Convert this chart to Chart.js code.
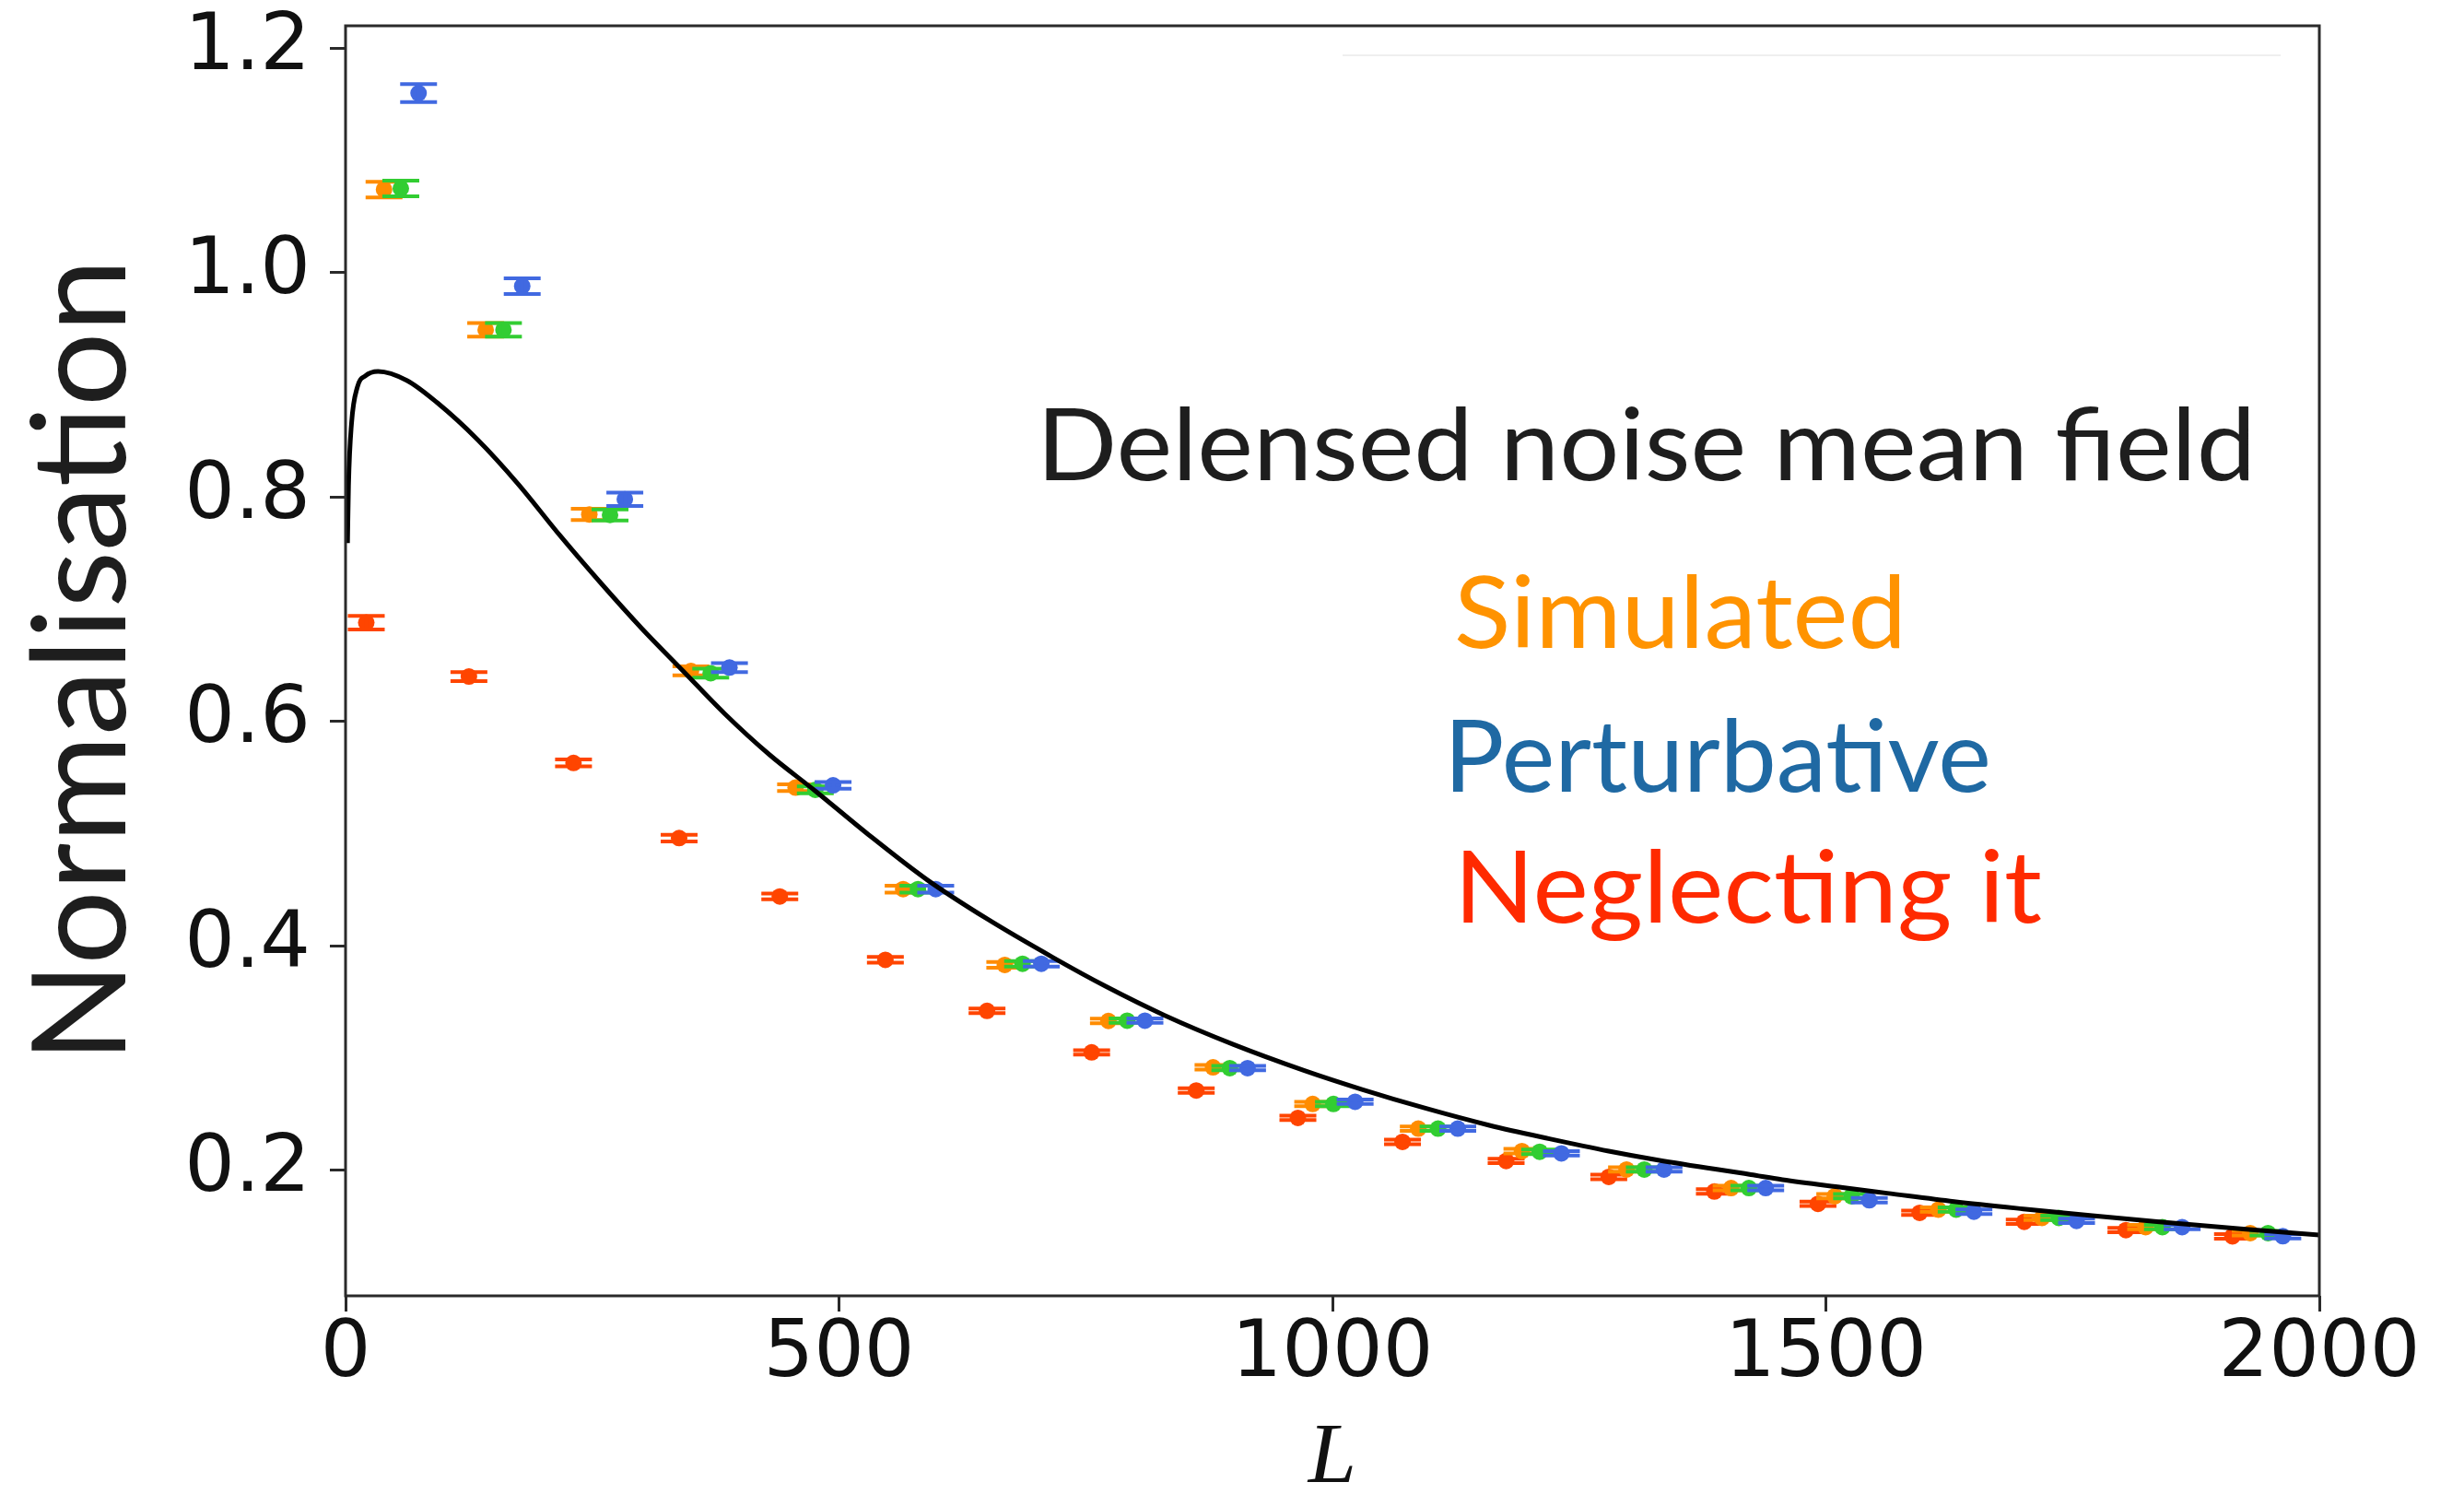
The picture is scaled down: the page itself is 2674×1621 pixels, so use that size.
<!DOCTYPE html>
<html><head><meta charset="utf-8">
<script src="https://cdn.jsdelivr.net/npm/chart.js@4.4.1/dist/chart.umd.min.js"></script>
<style>html,body{margin:0;padding:0;background:#fff;} #wrap{width:2674px;height:1621px;position:relative;}</style>
</head><body><div id="wrap"><canvas id="c" width="2674" height="1621"></canvas></div>
<script>
// ---- data ----
const xTicks = [0, 500, 1000, 1500, 2000];
const yTicks = [0.2, 0.4, 0.6, 0.8, 1.0, 1.2];

const curveL = [2, 3, 6, 12, 20, 33, 62, 93, 134, 175, 217, 259, 300, 342, 384, 430, 476, 530, 589, 650, 718, 770, 830, 900, 971, 1030, 1095, 1159, 1220, 1280, 1330, 1424, 1456, 1517, 1562, 1630, 1700, 1770, 1838, 1920, 2000];
const curveV = [0.759, 0.81, 0.865, 0.898, 0.908, 0.912, 0.904, 0.884, 0.851, 0.8115, 0.766, 0.723, 0.683, 0.645, 0.607, 0.570, 0.538, 0.499, 0.459, 0.424, 0.389, 0.364, 0.338, 0.312, 0.289, 0.272, 0.255, 0.240, 0.228, 0.217, 0.209, 0.196, 0.1915, 0.1845, 0.1795, 0.172, 0.1655, 0.1595, 0.154, 0.1478, 0.1422];

const negL = [21, 125, 231, 338, 440, 547, 650, 756, 862, 965, 1071, 1176, 1280, 1387, 1492, 1595, 1701, 1804, 1912];
const negV = [0.688, 0.640, 0.563, 0.496, 0.444, 0.3875, 0.342, 0.305, 0.271, 0.2466, 0.2252, 0.2082, 0.194, 0.181, 0.170, 0.162, 0.154, 0.1466, 0.141];
const negE = [0.006, 0.004, 0.003, 0.003, 0.0025, 0.0025, 0.002, 0.002, 0.002, 0.002, 0.002, 0.002, 0.002, 0.002, 0.002, 0.002, 0.002, 0.002, 0.002];

const simL = [39, 142, 247, 350, 456, 565, 668, 773, 879, 980, 1087, 1192, 1298, 1404, 1509, 1614, 1719, 1824, 1930];
const simV = [1.074, 0.949, 0.7845, 0.645, 0.541, 0.4505, 0.383, 0.333, 0.2917, 0.259, 0.237, 0.217, 0.2006, 0.1841, 0.1768, 0.1649, 0.1575, 0.1493, 0.1439];
const simE = [0.007, 0.006, 0.005, 0.004, 0.003, 0.003, 0.0025, 0.002, 0.002, 0.002, 0.002, 0.002, 0.002, 0.002, 0.002, 0.002, 0.002, 0.002, 0.002];

const grnL = [56, 160, 268, 370, 476, 580, 686, 792, 896, 1001, 1107, 1210, 1316, 1422, 1526, 1632, 1736, 1841, 1948];
const grnV = [1.075, 0.949, 0.784, 0.643, 0.539, 0.4505, 0.384, 0.3333, 0.291, 0.259, 0.237, 0.2164, 0.2006, 0.1841, 0.1768, 0.1649, 0.1575, 0.1493, 0.1439];
const grnE = [0.007, 0.006, 0.005, 0.004, 0.003, 0.003, 0.0025, 0.002, 0.002, 0.002, 0.002, 0.002, 0.002, 0.002, 0.002, 0.002, 0.002, 0.002, 0.002];

const pertL = [74, 179, 283, 389, 494, 598, 705, 810, 914, 1023, 1127, 1232, 1336, 1439, 1544, 1650, 1754, 1861, 1963];
const pertV = [1.160, 0.988, 0.798, 0.648, 0.543, 0.4505, 0.384, 0.3333, 0.291, 0.261, 0.237, 0.215, 0.2006, 0.1841, 0.1732, 0.163, 0.1548, 0.1493, 0.1411];
const pertE = [0.008, 0.007, 0.006, 0.004, 0.003, 0.003, 0.0025, 0.002, 0.002, 0.002, 0.002, 0.002, 0.002, 0.002, 0.002, 0.002, 0.002, 0.002, 0.002];

const noteTexts = ['Delensed noise mean field', 'Simulated', 'Perturbative', 'Neglecting it'];

// ---- build ----
const pts = (xs, ys) => xs.map((x, i) => ({x: x, y: ys[i]}));
const C = {red:'#FF4500', orange:'#FF8C00', green:'#32CD32', blue:'#4169E1'};

function dotSet(label, xs, ys, errs, color, order) {
  return {type:'scatter', label, data: pts(xs, ys), errors: errs, order,
    backgroundColor: color, borderColor: color, pointRadius: 9, pointBorderWidth: 0, pointHoverRadius: 9};
}

const errPlugin = {
  id: 'errbars',
  afterDatasetDraw(chart, args) {
    const ds = chart.data.datasets[args.index];
    if (!ds.errors) return;
    const ctx = chart.ctx, xs = chart.scales.x, ys = chart.scales.y;
    ctx.save();
    ctx.strokeStyle = ds.borderColor; ctx.lineWidth = 4; ctx.lineCap = 'butt';
    ds.data.forEach((p, i) => {
      const e = ds.errors[i];
      const px = xs.getPixelForValue(p.x);
      const y1 = ys.getPixelForValue(p.y + e), y2 = ys.getPixelForValue(p.y - e);
      ctx.beginPath();
      ctx.moveTo(px, y1); ctx.lineTo(px, y2);
      ctx.moveTo(px - 20, y1); ctx.lineTo(px + 20, y1);
      ctx.moveTo(px - 20, y2); ctx.lineTo(px + 20, y2);
      ctx.stroke();
    });
    ctx.restore();
  }
};

const notesPlugin = {
  id: 'notes',
  afterDraw(chart) {
    const ctx = chart.ctx, a = chart.chartArea;
    ctx.save();
    ctx.strokeStyle = '#2a2a2a'; ctx.lineWidth = 3;
    ctx.strokeRect(a.left, a.top, a.right - a.left, a.bottom - a.top);
    ctx.strokeStyle = '#efefef'; ctx.lineWidth = 2;
    ctx.beginPath(); ctx.moveTo(1457, 60); ctx.lineTo(2475, 60); ctx.stroke();
    const layout = [
      {x:1125, y:521, w:1323, c:'#1e1e1e'},
      {x:1578, y:703, w:491, c:'#FF9300'},
      {x:1567, y:859, w:594, c:'#1F69A3'},
      {x:1578, y:1001, w:638, c:'#FF2A00'}
    ];
    ctx.font = '400 109px Lato';
    ctx.textBaseline = 'alphabetic'; ctx.textAlign = 'left';
    noteTexts.forEach((t, i) => {
      const L = layout[i];
      const m = ctx.measureText(t).width;
      ctx.save();
      ctx.translate(L.x, L.y);
      ctx.scale(L.w / m, 1);
      ctx.fillStyle = L.c;
      ctx.fillText(t, 0, 0);
      ctx.restore();
    });
    ctx.restore();
  }
};

const datasets = [
  {type:'line', label:'Delensed noise mean field', data: pts(curveL, curveV), borderColor:'#000', borderWidth:5,
   pointRadius:0, fill:false, cubicInterpolationMode:'monotone', order:0},
  dotSet('Perturbative', pertL, pertV, pertE, C.blue, 1),
  dotSet('Simulated (green)', grnL, grnV, grnE, C.green, 2),
  dotSet('Simulated', simL, simV, simE, C.orange, 3),
  dotSet('Neglecting it', negL, negV, negE, C.red, 4)
];

const tickFont = {family:'DejaVu Sans', size:86, lineHeight:1};
new Chart(document.getElementById('c'), {
  type: 'scatter',
  data: {datasets},
  plugins: [errPlugin, notesPlugin],
  options: {
    responsive: false, animation: false, devicePixelRatio: 1,
    layout: {padding: {top: 28, right: 157, left: 0, bottom: 0}},
    plugins: {legend: {display: false}, tooltip: {enabled: false}},
    scales: {
      x: {
        type: 'linear', min: 0, max: 2000,
        afterFit: s => { s.height = 215; s.paddingLeft = 0; s.paddingRight = 0; },
        afterBuildTicks: s => { s.ticks = xTicks.map(v => ({value: v})); },
        ticks: {font: tickFont, color: '#111', padding: 5, maxRotation: 0, autoSkip: false, callback: v => String(v)},
        grid: {display: true, drawOnChartArea: false, drawTicks: true, tickLength: 17, tickWidth: 3, tickColor: '#2a2a2a'},
        border: {display: false},
        title: {display: true, text: 'L', color: '#111', padding: {top: 0, bottom: 5},
          font: {family: 'Liberation Serif', style: 'italic', size: 94, lineHeight: 0.7}}
      },
      y: {
        type: 'linear', min: 0.088, max: 1.22,
        afterFit: s => { s.width = 375; s.paddingTop = 0; s.paddingBottom = 0; },
        afterBuildTicks: s => { s.ticks = yTicks.map(v => ({value: v})); },
        ticks: {font: tickFont, color: '#111', padding: 21, autoSkip: false, callback: v => v.toFixed(1)},
        grid: {display: true, drawOnChartArea: false, drawTicks: true, tickLength: 17, tickWidth: 3, tickColor: '#2a2a2a'},
        border: {display: false},
        title: {display: true, text: 'Normalisation', color: '#1e1e1e', padding: {top: 19, bottom: 0},
          font: {family: 'Lato', size: 142, lineHeight: 1}}
      }
    }
  }
});
</script></body></html>
